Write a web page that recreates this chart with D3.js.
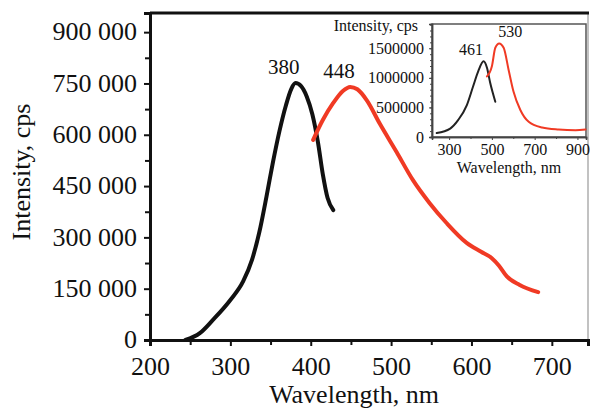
<!DOCTYPE html>
<html>
<head>
<meta charset="utf-8">
<script src="https://cdnjs.cloudflare.com/ajax/libs/d3/7.8.5/d3.min.js"></script>
<style>
    body { margin: 0; background: #fff; }
    svg text { font-family: "Liberation Serif", "Times New Roman", serif; fill: #111; }
</style>
</head>
<body>
<div id="chart"></div>
<script>
var w = 590; // Define width
var h = 410; // Define height

// Main spectra: excitation (black) and emission (red)
var blackWl = [244, 262, 278, 300, 316, 327, 336, 345, 353, 361, 369, 376, 381, 388, 395, 402, 409, 415, 421, 428];
var blackVal = [0, 20000, 58000, 117000, 172000, 235000, 315000, 420000, 520000, 610000, 685000, 735000, 751000, 742000, 712000, 660000, 578000, 485000, 415000, 380000];
var redWl = [403, 415, 428, 440, 449, 458, 470, 486, 507, 527, 548, 569, 594, 612, 625, 634, 644, 660, 683];
var redVal = [585000, 643000, 693000, 728000, 740000, 733000, 700000, 632000, 549000, 468000, 400000, 342000, 284000, 258000, 240000, 218000, 186000, 161000, 140000];

// Inset spectra
var insetBlackWl = [242, 305, 342, 383, 412, 436, 461, 477, 492, 516];
var insetBlackVal = [68000, 143000, 285000, 539000, 853000, 1109000, 1280000, 1172000, 916000, 597000];
var insetRedWl = [477, 500, 516, 534, 555, 578, 601, 633, 672, 735, 812, 891, 938];
var insetRedVal = [1024000, 1195000, 1509000, 1582000, 1509000, 1138000, 768000, 456000, 256000, 160000, 126000, 114000, 126000];

// Tick labels
var yTicks = [0, 150000, 300000, 450000, 600000, 750000, 900000];
var xTicks = [200, 300, 400, 500, 600, 700];
var insetYTicks = [0, 500000, 1000000, 1500000];
var insetXTicks = [300, 500, 700, 900];

// Peak labels
var mainPeaks = [{ text: "380", wl: 380, val: 751000 }, { text: "448", wl: 449, val: 740000 }];
var insetPeaks = [{ text: "461", wl: 458, val: 1280000 }, { text: "530", wl: 534, val: 1582000 }];

function zip(xs, ys) {
    return xs.map(function(x, i) { return { x: x, y: ys[i] }; });
}

function fmtSpace(d) {
    return d3.format(",")(d).replace(/,/g, " ");
}

var svg = d3.select("#chart")
    .append("svg")
    .attr("width", w)
    .attr("height", h);

// ---------- main chart ----------
var xScale = d3.scaleLinear().domain([200, 745]).range([150, 588]);
var yScale = d3.scaleLinear().domain([0, 956000]).range([340, 13]);

// frame: thin grey right side, thick top
svg.append("line")
    .attr("x1", 588).attr("x2", 588).attr("y1", 13).attr("y2", 340)
    .attr("stroke", "#999").attr("stroke-width", 1.2);
svg.append("line")
    .attr("x1", 150).attr("x2", 589).attr("y1", 13).attr("y2", 13)
    .attr("stroke", "#111").attr("stroke-width", 3);

// minor ticks
var yAxisMinor = d3.axisLeft(yScale).tickValues(d3.range(75000, 900001, 150000)).tickSize(5).tickFormat("");
var xAxisMinor = d3.axisBottom(xScale).tickValues(d3.range(250, 701, 100)).tickSize(5).tickFormat("");

var gy = svg.append("g")
    .attr("transform", "translate(150,0)")
    .call(d3.axisLeft(yScale).tickValues(yTicks).tickSize(6).tickPadding(7).tickFormat(fmtSpace));
svg.append("g").attr("transform", "translate(150,0)").call(yAxisMinor);

var gx = svg.append("g")
    .attr("transform", "translate(0,340)")
    .call(d3.axisBottom(xScale).tickValues(xTicks).tickSize(6));
svg.append("g").attr("transform", "translate(0,340)").call(xAxisMinor);

svg.selectAll(".domain").attr("stroke", "#111").attr("stroke-width", 3);
svg.selectAll(".tick line").attr("stroke", "#111").attr("stroke-width", 2);
gy.selectAll("text").style("font-size", "26px").attr("dy", "0.3em");
gx.selectAll("text").style("font-size", "26px").attr("y", 35).attr("dy", 0);

svg.append("text")
    .attr("x", 354).attr("y", 403)
    .attr("text-anchor", "middle")
    .style("font-size", "26px")
    .text("Wavelength, nm");

svg.append("text")
    .attr("transform", "translate(30,172) rotate(-90)")
    .attr("text-anchor", "middle")
    .style("font-size", "26px")
    .text("Intensity, cps");

var line = d3.line()
    .x(function(d) { return xScale(d.x); })
    .y(function(d) { return yScale(d.y); })
    .curve(d3.curveMonotoneX);

svg.append("path")
    .datum(zip(blackWl, blackVal))
    .attr("d", line)
    .attr("fill", "none").attr("stroke", "#111").attr("stroke-width", 4)
    .attr("stroke-linecap", "round").attr("stroke-linejoin", "round");

svg.append("path")
    .datum(zip(redWl, redVal))
    .attr("d", line)
    .attr("fill", "none").attr("stroke", "#f03a24").attr("stroke-width", 4)
    .attr("stroke-linecap", "round").attr("stroke-linejoin", "round");

svg.selectAll(".main-peak")
    .data(mainPeaks)
    .enter()
    .append("text")
    .attr("x", function(d) { return xScale(d.wl) - 11; })
    .attr("y", function(d) { return yScale(d.val) - 9; })
    .attr("text-anchor", "middle")
    .style("font-size", "21px")
    .text(function(d) { return d.text; });

// ---------- inset ----------
var ix = d3.scaleLinear().domain([220, 940]).range([432, 586]);
var iy = d3.scaleLinear().domain([0, 1910000]).range([137, 24]);

svg.append("rect")
    .attr("x", 432).attr("y", 24).attr("width", 154).attr("height", 113)
    .attr("fill", "#fff").attr("stroke", "#555").attr("stroke-width", 1.5);

var igy = svg.append("g")
    .attr("transform", "translate(432,0)")
    .call(d3.axisLeft(iy).tickValues(insetYTicks).tickSize(3).tickPadding(5).tickFormat(d3.format("d")));
var igyMinor = svg.append("g")
    .attr("transform", "translate(432,0)")
    .call(d3.axisLeft(iy).tickValues(d3.range(100000, 1900001, 100000)).tickSize(2).tickFormat(""));

var igx = svg.append("g")
    .attr("transform", "translate(0,137)")
    .call(d3.axisBottom(ix).tickValues(insetXTicks).tickSize(3).tickPadding(3));
var igxMinor = svg.append("g")
    .attr("transform", "translate(0,137)")
    .call(d3.axisBottom(ix).tickValues(d3.range(400, 801, 200)).tickSize(2).tickFormat(""));

igy.selectAll("text").style("font-size", "16px").attr("dy", "0.32em");
igx.selectAll("text").style("font-size", "16px").attr("dy", "0.75em");
[igy, igx, igyMinor, igxMinor].forEach(function(g) {
    g.select(".domain").attr("stroke", "#444").attr("stroke-width", 1.5);
    g.selectAll(".tick line").attr("stroke", "#444").attr("stroke-width", 1);
});

svg.append("text")
    .attr("x", 418).attr("y", 31)
    .attr("text-anchor", "end")
    .style("font-size", "16px")
    .text("Intensity, cps");

svg.append("text")
    .attr("x", 509).attr("y", 173)
    .attr("text-anchor", "middle")
    .style("font-size", "16px")
    .text("Wavelength, nm");

var iline = d3.line()
    .x(function(d) { return ix(d.x); })
    .y(function(d) { return iy(d.y); })
    .curve(d3.curveMonotoneX);

svg.append("path")
    .datum(zip(insetBlackWl, insetBlackVal))
    .attr("d", iline)
    .attr("fill", "none").attr("stroke", "#222").attr("stroke-width", 2)
    .attr("stroke-linecap", "round");

svg.append("path")
    .datum(zip(insetRedWl, insetRedVal))
    .attr("d", iline)
    .attr("fill", "none").attr("stroke", "#f03a24").attr("stroke-width", 2)
    .attr("stroke-linecap", "round");

// label offsets: 461 sits left of its peak, 530 to the right
var insetDx = [-12, 11];
svg.selectAll(".inset-peak")
    .data(insetPeaks)
    .enter()
    .append("text")
    .attr("x", function(d, i) { return ix(d.wl) + insetDx[i]; })
    .attr("y", function(d) { return iy(d.val) - 6; })
    .attr("text-anchor", "middle")
    .style("font-size", "16px")
    .text(function(d) { return d.text; });
</script>
</body>
</html>
